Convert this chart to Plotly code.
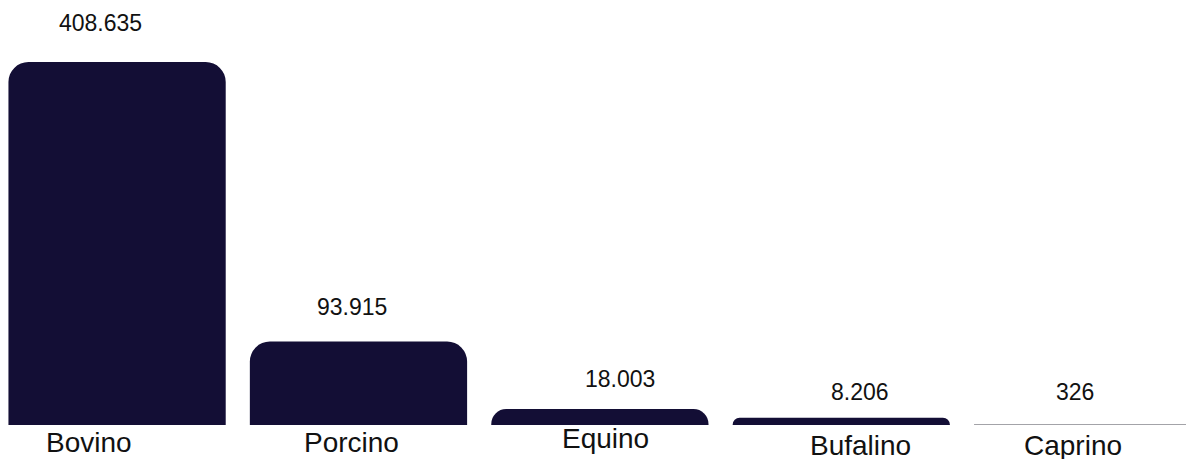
import plotly.graph_objects as go

# livestock headcount by species
species = ["Bovino", "Porcino", "Equino", "Bufalino", "Caprino"]
heads = [408635, 93915, 18003, 8206, 326]
value_labels = ["408.635", "93.915", "18.003", "8.206", "326"]

BAR_COLOR = "#130e35"
FONT = "Liberation Sans, Arial, Helvetica, sans-serif"
# the tiny Caprino bar only shows up as a faint hairline in the original
bar_colors = [BAR_COLOR, BAR_COLOR, BAR_COLOR, BAR_COLOR, "#a3a3a8"]

# label placement tweaks (pixels), mimicking the original layout
value_dx = [-17, -6, 20, 19, -8]
value_dy = [39, 35, 30, 26, 33]
cat_dx = [-28, -7, 6, 19, -10]
cat_dy = [-17, -17, -13, -20, -20]

fig = go.Figure(
    go.Bar(
        x=species,
        y=heads,
        width=0.9,
        marker=dict(color=bar_colors, cornerradius=20, line=dict(width=0)),
        hoverinfo="x+y",
    )
)

for name, v, lab, dx, dy in zip(species, heads, value_labels, value_dx, value_dy):
    fig.add_annotation(
        x=name, y=v, text=lab, showarrow=False,
        xshift=dx, yshift=dy, yanchor="middle",
        font=dict(family=FONT, size=23, color="#111111"),
    )

for name, dx, dy in zip(species, cat_dx, cat_dy):
    fig.add_annotation(
        x=name, y=0, text=name, showarrow=False,
        xshift=dx, yshift=dy, yanchor="middle",
        font=dict(family=FONT, size=28, color="#111111"),
    )

fig.update_layout(
    width=1186,
    height=459,
    margin=dict(l=0, r=0, t=0, b=34),
    plot_bgcolor="white",
    paper_bgcolor="white",
    showlegend=False,
    xaxis=dict(range=[-0.485, 4.428], showticklabels=False, showgrid=False,
               zeroline=False, showline=False, ticks=""),
    yaxis=dict(range=[0, 478455], showticklabels=False, showgrid=False,
               zeroline=False, showline=False, ticks=""),
)

# drop the browser's default body margin so the figure sits at the page corner
fig.write_html(
    "out.html",
    config={"displayModeBar": False},
    post_script="document.body.style.margin='0';",
)
